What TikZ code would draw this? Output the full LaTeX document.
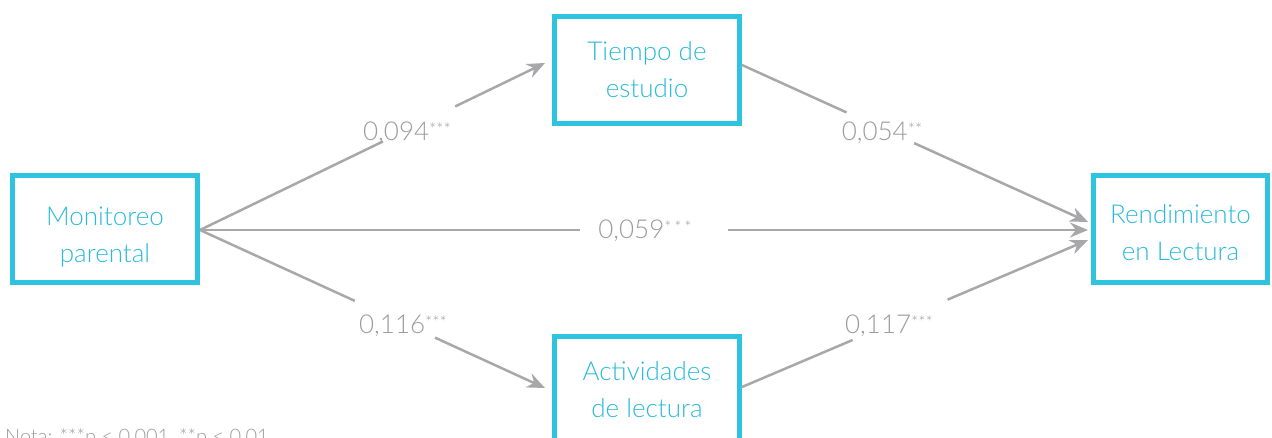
\documentclass[tikz,border=0pt]{standalone}
\usepackage{fontspec}
\setmainfont{Lato}[UprightFont={* Light}]
\usetikzlibrary{arrows.meta}
\definecolor{boxc}{HTML}{2EC4DF}
\definecolor{txtc}{HTML}{2BBBD9}
\definecolor{linec}{HTML}{A8A8AA}
\definecolor{labc}{HTML}{9C9C9E}
\newcommand{\tp}[1]{\rule{0pt}{#1}}
\begin{document}
\begin{tikzpicture}[x=1pt,y=-1pt,
  var/.style={draw=boxc,line width=5pt,fill=white,minimum height=107pt,align=center,
    text=txtc,font=\fontsize{26}{37}\selectfont},
  path/.style={draw=linec,line width=2.5pt,-{Stealth[length=18pt,width=15pt,inset=6pt]}},
  gap/.style={fill=white,inner sep=0pt,minimum height=10pt,sloped},
  lab/.style={text=labc,font=\fontsize{26}{30}\selectfont,inner sep=0pt},
]
\useasboundingbox (0,0) rectangle (1272,438);
\node[var,minimum width=185pt] (M) at (105,229.5) {\tp{33pt}Monitoreo\\parental};
\node[var,minimum width=185pt] (T) at (647,70) {Tiempo de\\estudio};
\node[var,minimum width=185pt] (A) at (647,390) {Actividades\\de lectura};
\node[var,minimum width=174pt] (R) at (1180.5,229.5) {\tp{25pt}Rendimiento\\en Lectura};

\coordinate (Ms) at (200,230);
\coordinate (Te) at (545,63);
\coordinate (Ts) at (742,65);
\coordinate (Ae) at (545,388);
\coordinate (As) at (742,387);
\coordinate (R1) at (1088,222);
\coordinate (R2) at (1088,230);
\coordinate (R3) at (1088,240);

\draw[path] (Ms) -- node[gap,pos=0.635,minimum width=80pt]{} (Te);
\draw[path] (Ts) -- node[gap,pos=0.40,minimum width=74pt]{} (R1);
\draw[path] (Ms) -- node[gap,pos=0.5115,minimum width=148pt]{} (R2);
\draw[path] (Ms) -- node[gap,pos=0.565,minimum width=88pt]{} (Ae);
\draw[path] (As) -- node[gap,pos=0.457,minimum width=103pt]{} (R3);

\newcommand{\strs}[1]{\raisebox{5pt}{\fontsize{17}{17}\selectfont #1}}
\node[lab] (l1) at (407,133) {0,094\strs{***}};
\node[lab] (l2) at (882,133) {0,054\strs{**}};
\node[lab] (l3) at (645,231) {0,059\strs{*\,*\,*}};
\node[lab] (l4) at (403,326) {0,116\strs{***}};
\node[lab] (l5) at (889,326) {0,117\strs{***}};

\node[text=labc,font=\fontsize{20}{24}\selectfont,anchor=north west,inner sep=0pt] (nota) at (5,428) {Nota: ***p < 0,001, **p < 0,01};
\end{tikzpicture}
\end{document}
